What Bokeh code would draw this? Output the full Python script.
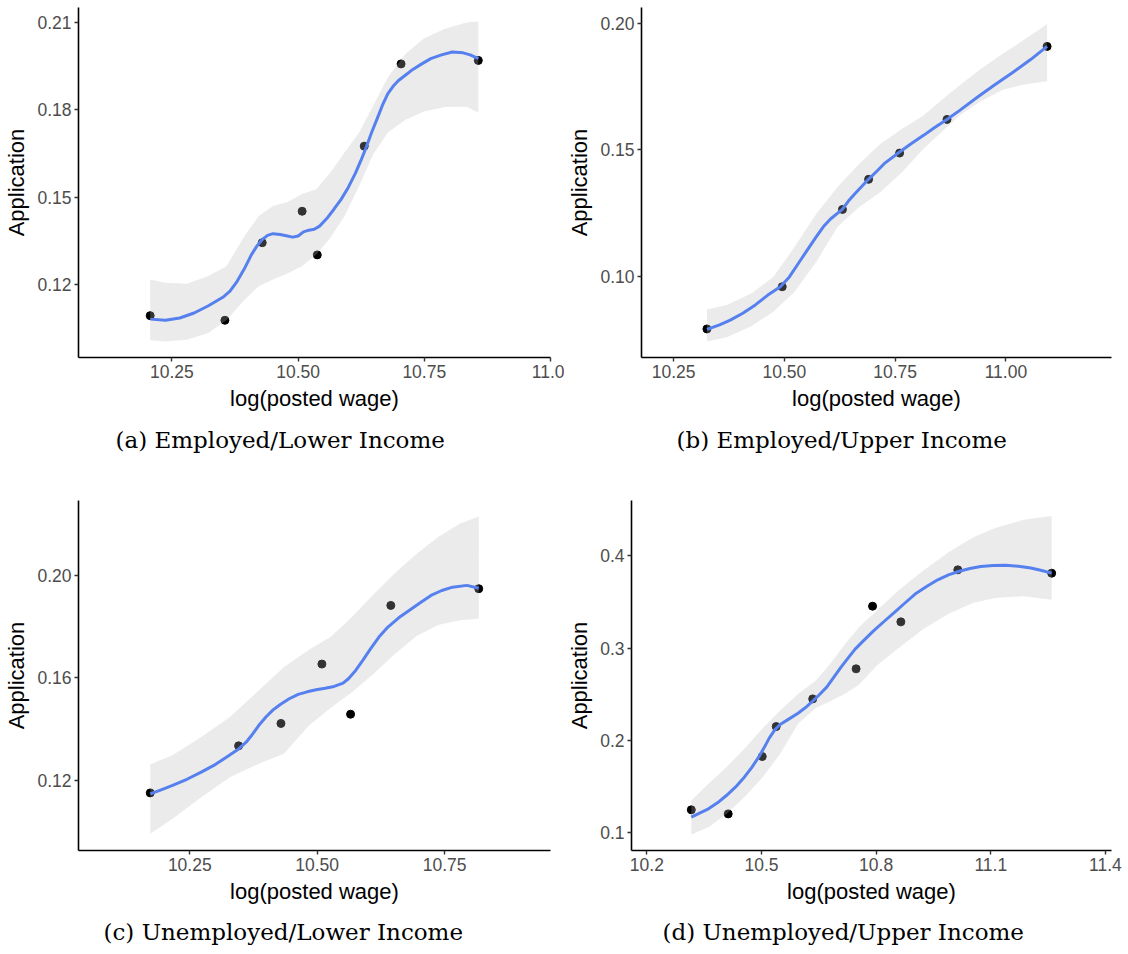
from bokeh.plotting import figure
from bokeh.layouts import column, row
from bokeh.models import Range1d, FixedTicker, Title
from bokeh.embed import file_html
from bokeh.resources import INLINE

# ---------------- data ----------------
# (a) Employed / Lower Income
a_x = [10.207, 10.355, 10.429, 10.508, 10.538, 10.631, 10.704, 10.857]
a_y = [0.1092, 0.1076, 0.1343, 0.1451, 0.1301, 0.1675, 0.1958, 0.1970]
a_fit_x = [10.2074, 10.2372, 10.2656, 10.2940, 10.3224, 10.3509, 10.3651, 10.3793, 10.3935, 10.4077,
           10.4183, 10.4290, 10.4396, 10.4503, 10.4645, 10.4787, 10.4893, 10.5000, 10.5107, 10.5213,
           10.5320, 10.5426, 10.5568, 10.5710, 10.5852, 10.5994, 10.6136, 10.6243, 10.6349, 10.6456,
           10.6563, 10.6669, 10.6776, 10.6882, 10.6989, 10.7131, 10.7273, 10.7450, 10.7628, 10.7841,
           10.8054, 10.8267, 10.8409, 10.8572]
a_fit_y = [0.1080, 0.1076, 0.1084, 0.1101, 0.1126, 0.1155, 0.1176, 0.1210, 0.1253, 0.1302,
           0.1331, 0.1354, 0.1368, 0.1374, 0.1371, 0.1366, 0.1362, 0.1366, 0.1380, 0.1386,
           0.1389, 0.1400, 0.1426, 0.1458, 0.1492, 0.1533, 0.1582, 0.1625, 0.1671, 0.1722,
           0.1768, 0.1815, 0.1855, 0.1881, 0.1901, 0.1920, 0.1939, 0.1958, 0.1976, 0.1989,
           0.1999, 0.1996, 0.1989, 0.1976]
a_band_x = [10.207, 10.237, 10.280, 10.322, 10.358, 10.394, 10.422, 10.450, 10.479, 10.507,
            10.536, 10.564, 10.592, 10.621, 10.649, 10.678, 10.713, 10.749, 10.791, 10.834, 10.857]
a_hi = [0.1216, 0.1205, 0.1202, 0.1228, 0.1262, 0.1366, 0.1435, 0.1469, 0.1483, 0.1510,
        0.1527, 0.1584, 0.1653, 0.1722, 0.1815, 0.1912, 0.1993, 0.2045, 0.2079, 0.2100, 0.2104]
a_lo = [0.1007, 0.1003, 0.1009, 0.1032, 0.1076, 0.1147, 0.1193, 0.1216, 0.1237, 0.1262,
        0.1302, 0.1360, 0.1435, 0.1538, 0.1648, 0.1722, 0.1766, 0.1794, 0.1810, 0.1811, 0.1791]
a_xticks = [10.25, 10.50, 10.75, 11.0]
a_xlabels = ["10.25", "10.50", "10.75", "11.0"]
a_yticks = [0.12, 0.15, 0.18, 0.21]
a_ylabels = ["0.12", "0.15", "0.18", "0.21"]

# (b) Employed / Upper Income
b_x = [10.325, 10.495, 10.631, 10.690, 10.760, 10.867, 11.093]
b_y = [0.0791, 0.0958, 0.1264, 0.1383, 0.1487, 0.1620, 0.1909]
b_fit_x = [10.3252, 10.3535, 10.3777, 10.4060, 10.4343, 10.4626, 10.4908, 10.5111, 10.5313, 10.5515,
           10.5717, 10.5878, 10.6040, 10.6307, 10.6444, 10.6606, 10.6897, 10.7091, 10.7252, 10.7600,
           10.7859, 10.8141, 10.8384, 10.8667, 10.8950, 10.9354, 10.9758, 11.0162, 11.0566, 11.0930]
b_fit_y = [0.0789, 0.0807, 0.0826, 0.0853, 0.0886, 0.0925, 0.0958, 0.0997, 0.1050, 0.1103,
           0.1155, 0.1195, 0.1226, 0.1264, 0.1297, 0.1329, 0.1383, 0.1416, 0.1445, 0.1491,
           0.1524, 0.1557, 0.1587, 0.1620, 0.1655, 0.1708, 0.1758, 0.1807, 0.1858, 0.1909]
b_band_x = [10.325, 10.370, 10.426, 10.475, 10.523, 10.572, 10.620, 10.669, 10.717, 10.766,
            10.814, 10.855, 10.895, 10.943, 10.992, 11.040, 11.093]
b_hi = [0.0868, 0.0886, 0.0932, 0.0997, 0.1116, 0.1247, 0.1353, 0.1445, 0.1524, 0.1583,
        0.1636, 0.1697, 0.1754, 0.1820, 0.1879, 0.1934, 0.1997]
b_lo = [0.0741, 0.0758, 0.0803, 0.0859, 0.0938, 0.1057, 0.1195, 0.1274, 0.1333, 0.1412,
        0.1504, 0.1570, 0.1636, 0.1692, 0.1737, 0.1758, 0.1771]
b_xticks = [10.25, 10.50, 10.75, 11.00]
b_xlabels = ["10.25", "10.50", "10.75", "11.00"]
b_yticks = [0.10, 0.15, 0.20]
b_ylabels = ["0.10", "0.15", "0.20"]

# (c) Unemployed / Lower Income
c_x = [10.1725, 10.3458, 10.4289, 10.5092, 10.5655, 10.6444, 10.8169]
c_y = [0.1153, 0.1336, 0.1423, 0.1654, 0.1459, 0.1882, 0.1947]
c_fit_x = [10.1725, 10.1951, 10.2162, 10.2444, 10.2725, 10.3007, 10.3218, 10.3458, 10.3606, 10.3711,
           10.3852, 10.3993, 10.4134, 10.4275, 10.4451, 10.4627, 10.4803, 10.4979, 10.5155, 10.5331,
           10.5507, 10.5613, 10.5754, 10.5894, 10.6035, 10.6211, 10.6387, 10.6599, 10.6810, 10.7021,
           10.7232, 10.7444, 10.7655, 10.7937, 10.8169]
c_fit_y = [0.1149, 0.1166, 0.1182, 0.1206, 0.1234, 0.1264, 0.1292, 0.1324, 0.1350, 0.1376,
           0.1415, 0.1448, 0.1476, 0.1497, 0.1519, 0.1536, 0.1546, 0.1554, 0.1560, 0.1567,
           0.1580, 0.1597, 0.1629, 0.1668, 0.1710, 0.1759, 0.1798, 0.1834, 0.1863, 0.1892,
           0.1921, 0.1940, 0.1953, 0.1960, 0.1949]
c_band_x = [10.1725, 10.2162, 10.2725, 10.3289, 10.3852, 10.4345, 10.4838, 10.5261, 10.5683, 10.6106,
            10.6528, 10.6951, 10.7373, 10.7796, 10.8169]
c_hi = [0.1264, 0.1299, 0.1370, 0.1448, 0.1551, 0.1642, 0.1710, 0.1759, 0.1837, 0.1925,
        0.2008, 0.2083, 0.2148, 0.2200, 0.2228]
c_lo = [0.0994, 0.1052, 0.1136, 0.1214, 0.1266, 0.1305, 0.1415, 0.1483, 0.1544, 0.1616,
        0.1694, 0.1763, 0.1806, 0.1824, 0.1830]
c_xticks = [10.25, 10.50, 10.75]
c_xlabels = ["10.25", "10.50", "10.75"]
c_yticks = [0.12, 0.16, 0.20]
c_ylabels = ["0.12", "0.16", "0.20"]

# (d) Unemployed / Upper Income
d_x = [10.3162, 10.4128, 10.5019, 10.5384, 10.6340, 10.7475, 10.7906, 10.8647, 11.0137, 11.2594]
d_y = [0.1246, 0.1202, 0.1824, 0.2149, 0.2449, 0.2775, 0.3454, 0.3284, 0.3848, 0.3812]
d_fit_x = [10.3162, 10.3378, 10.3612, 10.3847, 10.4081, 10.4316, 10.4550, 10.4737, 10.4925, 10.5066,
           10.5206, 10.5347, 10.5487, 10.5722, 10.5956, 10.6144, 10.6340, 10.6519, 10.6706, 10.6894,
           10.7081, 10.7269, 10.7456, 10.7691, 10.7925, 10.8206, 10.8487, 10.8769, 10.9050, 10.9331,
           10.9612, 10.9894, 11.0175, 11.0456, 11.0737, 11.1065, 11.1394, 11.1722, 11.2050, 11.2331,
           11.2594]
d_fit_y = [0.1166, 0.1210, 0.1257, 0.1322, 0.1401, 0.1492, 0.1600, 0.1701, 0.1817, 0.1918,
           0.2026, 0.2113, 0.2171, 0.2232, 0.2294, 0.2352, 0.2424, 0.2496, 0.2576, 0.2684,
           0.2793, 0.2894, 0.2991, 0.3089, 0.3183, 0.3288, 0.3389, 0.3494, 0.3595, 0.3671,
           0.3740, 0.3794, 0.3833, 0.3862, 0.3884, 0.3895, 0.3898, 0.3888, 0.3869, 0.3841,
           0.3812]
d_band_x = [10.3162, 10.3612, 10.4081, 10.4550, 10.5019, 10.5487, 10.5956, 10.6425, 10.6800, 10.7175,
            10.7550, 10.8019, 10.8581, 10.9237, 10.9894, 11.0550, 11.1112, 11.1862, 11.2594]
d_hi = [0.1347, 0.1528, 0.1708, 0.1907, 0.2124, 0.2323, 0.2503, 0.2648, 0.2829, 0.3038,
        0.3226, 0.3407, 0.3624, 0.3841, 0.4039, 0.4202, 0.4303, 0.4390, 0.4433]
d_lo = [0.0978, 0.1058, 0.1202, 0.1383, 0.1593, 0.1853, 0.2178, 0.2352, 0.2424, 0.2503,
        0.2601, 0.2811, 0.2999, 0.3208, 0.3371, 0.3490, 0.3544, 0.3562, 0.3523]
d_xticks = [10.2, 10.5, 10.8, 11.1, 11.4]
d_xlabels = ["10.2", "10.5", "10.8", "11.1", "11.4"]
d_yticks = [0.1, 0.2, 0.3, 0.4]
d_ylabels = ["0.1", "0.2", "0.3", "0.4"]

captions = ["(a) Employed/Lower Income", "(b) Employed/Upper Income",
            "(c) Unemployed/Lower Income", "(d) Unemployed/Upper Income"]
x_title = "log(posted wage)"
y_title = "Application"

SANS = "Liberation Sans"
SERIF = "DejaVu Serif"


def panel(px, py, fx, fy, bx, lo, hi, xr, yr, xt, xl, yt, yl, cap, cap_off, cap_standoff,
          w, h, bl, br, bt, bb):
    p = figure(width=w, height=h, output_backend="svg", toolbar_location=None,
               x_range=Range1d(*xr), y_range=Range1d(*yr),
               min_border_left=bl, min_border_right=br,
               min_border_top=bt, min_border_bottom=bb)
    p.outline_line_color = None
    p.background_fill_color = "white"
    p.border_fill_color = "white"
    p.xgrid.visible = False
    p.ygrid.visible = False

    # points, then ribbon, then fitted line (ggplot order)
    p.scatter(px, py, size=8, color="black")
    p.varea(x=bx, y1=lo, y2=hi, fill_color="#b7b7b7", fill_alpha=0.28)
    p.line(fx, fy, line_color="#5580EE", line_width=3, line_join="round")

    for ax, ticks, labels in ((p.xaxis[0], xt, xl), (p.yaxis[0], yt, yl)):
        ax.ticker = FixedTicker(ticks=ticks, minor_ticks=[])
        ax.major_label_overrides = {t: s for t, s in zip(ticks, labels)}
        ax.axis_line_color = "black"
        ax.axis_line_width = 1.6
        ax.major_tick_line_color = "#333333"
        ax.major_tick_line_width = 1.4
        ax.major_tick_out = 4
        ax.major_tick_in = 0
        ax.minor_tick_out = 0
        ax.minor_tick_in = 0
        ax.major_label_text_font = SANS
        ax.major_label_text_font_size = "17.5px"
        ax.major_label_text_color = "#4D4D4D"
        ax.major_label_standoff = 3
        ax.axis_label_text_font = SANS
        ax.axis_label_text_font_size = "22px"
        ax.axis_label_text_font_style = "normal"
        ax.axis_label_text_color = "black"
        ax.axis_label_standoff = 5
    p.xaxis.axis_label = x_title
    p.yaxis.axis_label = y_title

    t = Title(text=cap, align="left", offset=cap_off, standoff=cap_standoff,
              text_font=SERIF, text_font_size="23px", text_font_style="normal",
              text_color="black")
    p.add_layout(t, "below")
    return p


pa = panel(a_x, a_y, a_fit_x, a_fit_y, a_band_x, a_lo, a_hi,
           (10.065, 11.0), (0.0948, 0.2152), a_xticks, a_xlabels, a_yticks, a_ylabels,
           captions[0], 37, 22, 564, 486, 78, 14, 7, 129)
pb = panel(b_x, b_y, b_fit_x, b_fit_y, b_band_x, b_lo, b_hi,
           (10.1773, 11.2384), (0.0678, 0.2063), b_xticks, b_xlabels, b_yticks, b_ylabels,
           captions[1], 35, 22, 564, 486, 76, 17, 7, 129)
pc = panel(c_x, c_y, c_fit_x, c_fit_y, c_band_x, c_lo, c_hi,
           (10.0317, 10.9577), (0.0929, 0.2290), c_xticks, c_xlabels, c_yticks, c_ylabels,
           captions[2], 25, 20, 564, 468, 78, 14, 14, 104)
pd_ = panel(d_x, d_y, d_fit_x, d_fit_y, d_band_x, d_lo, d_hi,
            (10.1597, 11.416), (0.0805, 0.4600), d_xticks, d_xlabels, d_yticks, d_ylabels,
            captions[3], 31, 20, 564, 468, 66, 17, 14, 104)

layout = column(row(pa, pb), row(pc, pd_))
open("out.html", "w").write(file_html(layout, INLINE))
